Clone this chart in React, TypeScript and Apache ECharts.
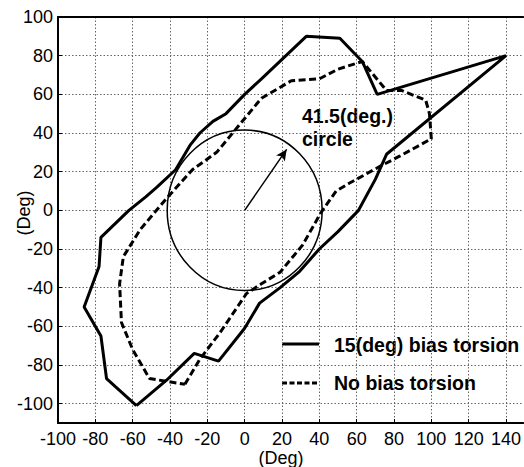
import React, { useEffect, useRef } from "react";
import * as echarts from "echarts";

const xTicks = [-100, -80, -60, -40, -20, 0, 20, 40, 60, 80, 100, 120, 140];
const yTicks = [-100, -80, -60, -40, -20, 0, 20, 40, 60, 80, 100];

const biasTorsion: number[][] = [
  [-58, -101], [-42, -88], [-27, -74], [-14, -78], [0, -61], [8, -48],
  [19, -40], [29, -32], [40, -20], [50, -11], [61, 0], [70, 16], [76, 29],
  [140, 80], [71, 60], [63, 77], [51, 89], [33, 90], [9, 68], [0, 60],
  [-10, 50], [-17, 46], [-24, 40], [-29, 34], [-37, 21], [-47, 12], [-53, 7],
  [-62, 0], [-77, -14], [-78, -29], [-86, -50], [-77, -65], [-74, -87], [-58, -101],
];

const noBiasTorsion: number[][] = [
  [-32, -90], [-24, -77], [-13, -63], [1, -43], [9, -38], [19, -32], [31, -18],
  [41, -1], [49, 10], [56, 14], [73, 23], [83, 28], [100, 37], [99, 50],
  [97, 57], [84, 62], [76, 62], [63, 77], [50, 73], [40, 68], [25, 67], [9, 58],
  [-3, 44], [-15, 30], [-28, 21], [-42, 6], [-56, -10], [-65, -24], [-67, -38],
  [-66, -58], [-60, -72], [-51, -87], [-32, -90],
];

const circleData: number[][] = [[0, 0, 41.5]];
const arrowFrom = [0, 0];
const arrowTo = [22.5, 31.5];

const seriesNames = ["15(deg) bias torsion", "No bias torsion"];
const FONT = "'Liberation Sans', Arial, sans-serif";

export default function App() {
  const ref = useRef<HTMLDivElement>(null);
  useEffect(() => {
    if (!ref.current) return;
    const chart = echarts.init(ref.current, null, { renderer: "svg" });
    const gridLine = { show: true, lineStyle: { color: "#666", width: 1, type: [1.5, 2] as any } };
    chart.setOption({
      animation: false,
      backgroundColor: "#fff",
      textStyle: { fontFamily: FONT },
      grid: { left: 58, right: 0, top: 17, bottom: 44, containLabel: false },
      xAxis: [
        {
          type: "value",
          min: -100,
          max: 149.2,
          axisLine: { show: true, onZero: false, lineStyle: { color: "#000", width: 2 } },
          axisTick: { show: true, inside: true, length: 4, customValues: xTicks, lineStyle: { color: "#000" } },
          axisLabel: { customValues: xTicks, color: "#000", fontSize: 18, margin: 7, fontFamily: FONT },
          splitLine: gridLine,
        },
        {
          type: "value",
          position: "top",
          min: -100,
          max: 149.2,
          axisLine: { show: true, onZero: false, lineStyle: { color: "#000", width: 2 } },
          axisTick: { show: false },
          axisLabel: { show: false },
          splitLine: { show: false },
        },
      ],
      yAxis: {
        type: "value",
        min: -110,
        max: 100,
        axisLine: { show: true, onZero: false, lineStyle: { color: "#000", width: 2 } },
        axisTick: { show: true, inside: true, length: 4, customValues: yTicks, lineStyle: { color: "#000" } },
        axisLabel: { customValues: yTicks, color: "#000", fontSize: 18, margin: 5, fontFamily: FONT },
        splitLine: gridLine,
      },
      series: [
        {
          name: seriesNames[0],
          type: "line",
          data: biasTorsion,
          symbol: "none",
          lineStyle: { color: "#000", width: 3 },
          itemStyle: { color: "#000" },
          z: 3,
        },
        {
          name: seriesNames[1],
          type: "line",
          data: noBiasTorsion,
          symbol: "none",
          lineStyle: { color: "#000", width: 3, type: [7, 3.5] },
          itemStyle: { color: "#000" },
          z: 3,
        },
        {
          name: "circle",
          type: "custom",
          data: circleData,
          renderItem: (params: any, api: any) => {
            const c = api.coord([api.value(0), api.value(1)]);
            const s = api.size([api.value(2), api.value(2)]);
            return {
              type: "ellipse",
              shape: { cx: c[0], cy: c[1], rx: s[0], ry: s[1] },
              style: { fill: "none", stroke: "#000", lineWidth: 1.5 },
            };
          },
          markLine: {
            silent: true,
            symbol: ["none", "arrow"],
            symbolSize: [8, 11],
            label: { show: false },
            lineStyle: { color: "#000", width: 1.5, type: "solid" },
            data: [[{ coord: arrowFrom }, { coord: arrowTo }]],
          },
          z: 2,
        },
      ],
      graphic: [
        {
          type: "text",
          left: 302,
          top: 106,
          style: { text: "41.5(deg.)", font: `bold 19.5px ${FONT}`, fill: "#000" },
        },
        {
          type: "text",
          left: 302,
          top: 129,
          style: { text: "circle", font: `bold 19.5px ${FONT}`, fill: "#000" },
        },
        {
          type: "text",
          x: 281,
          y: 458,
          style: { text: "(Deg)", font: `18px ${FONT}`, fill: "#000", align: "center", verticalAlign: "middle" },
        },
        {
          type: "text",
          x: 24,
          y: 213,
          rotation: Math.PI / 2,
          style: { text: "(Deg)", font: `18px ${FONT}`, fill: "#000", align: "center", verticalAlign: "middle" },
        },
        {
          type: "line",
          shape: { x1: 282, y1: 344, x2: 319, y2: 344 },
          style: { stroke: "#000", lineWidth: 3 },
        },
        {
          type: "text",
          x: 334,
          y: 345,
          style: { text: seriesNames[0], font: `bold 19.5px ${FONT}`, fill: "#000", verticalAlign: "middle" },
        },
        {
          type: "line",
          shape: { x1: 282, y1: 383, x2: 319, y2: 383 },
          style: { stroke: "#000", lineWidth: 3, lineDash: [5, 2.5] },
        },
        {
          type: "text",
          x: 334,
          y: 383,
          style: { text: seriesNames[1], font: `bold 19.5px ${FONT}`, fill: "#000", verticalAlign: "middle" },
        },
      ],
    });
    return () => chart.dispose();
  }, []);
  return (
    <div
      ref={ref}
      style={{ position: "absolute", left: 0, top: 0, width: 524, height: 467, background: "#fff" }}
    />
  );
}
